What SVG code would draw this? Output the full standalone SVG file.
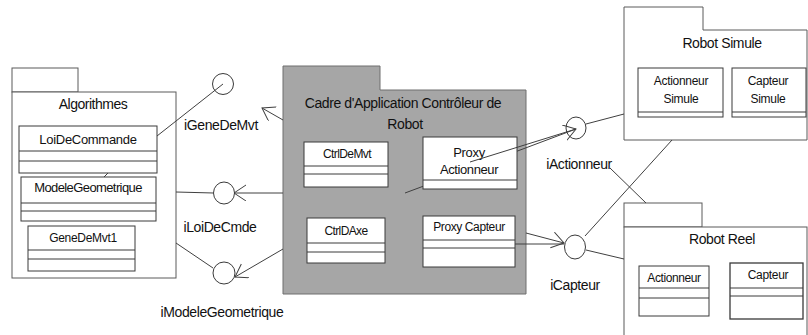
<svg xmlns="http://www.w3.org/2000/svg" width="808" height="335" viewBox="0 0 808 335">
<style>
.pk{fill:#fff;stroke:#5a5a5a;stroke-width:1}
.pkg{fill:#a6a6a6;stroke:#6e6e6e;stroke-width:1}
.cl{fill:#fff;stroke:#3a3a3a;stroke-width:1}
.dv{stroke:#3a3a3a;stroke-width:1;fill:none}
.if{fill:#fff;stroke:#3a3a3a;stroke-width:1}
.cn{stroke:#404040;stroke-width:1;fill:none}
text{font-family:"Liberation Sans",Arial,sans-serif;fill:#111;text-anchor:middle}
.t14{font-size:14px}
.t13{font-size:13px}
.t12{font-size:12px}
.lb{font-size:14px;letter-spacing:-0.4px}
</style>
<defs>
<marker id="oa" markerUnits="userSpaceOnUse" markerWidth="14" markerHeight="18" refX="12" refY="8" orient="auto">
<path d="M0,0 L12,8 L0,16" fill="none" stroke="#404040" stroke-width="1"/>
</marker>
</defs>

<g id="algorithmes">
<rect class="pk" x="12" y="68" width="66" height="24"/>
<rect class="pk" x="12" y="92" width="164" height="186"/>
<text class="t14" x="93" y="109" letter-spacing="-0.5">Algorithmes</text>
<g id="loiDeCommande">
<rect class="cl" x="19" y="126" width="138" height="47"/>
<line class="dv" x1="19" y1="151" x2="157" y2="151"/>
<line class="dv" x1="19" y1="161" x2="157" y2="161"/>
<text class="t13" x="88" y="144" letter-spacing="-0.3">LoiDeCommande</text>
</g>
<g id="modeleGeometrique">
<rect class="cl" x="21" y="177" width="135" height="44"/>
<line class="dv" x1="21" y1="203" x2="156" y2="203"/>
<line class="dv" x1="21" y1="211" x2="156" y2="211"/>
<text class="t13" x="88" y="192" letter-spacing="-0.6">ModeleGeometrique</text>
</g>
<g id="geneDeMvt1">
<rect class="cl" x="28" y="226" width="107" height="45"/>
<line class="dv" x1="28" y1="250" x2="135" y2="250"/>
<line class="dv" x1="28" y1="259" x2="135" y2="259"/>
<text class="t12" x="83" y="242" letter-spacing="-0.3">GeneDeMvt1</text>
</g>
</g>

<g id="iGeneDeMvt">
<ellipse class="if" cx="223" cy="84" rx="10.5" ry="10.5"/>
<text class="lb" x="221" y="130">iGeneDeMvt</text>
</g>
<g id="iLoiDeCmde">
<ellipse class="if" cx="224" cy="193" rx="10.5" ry="11"/>
<text class="lb" x="220" y="232">iLoiDeCmde</text>
</g>
<g id="iModeleGeometrique">
<ellipse class="if" cx="224" cy="273" rx="11" ry="11"/>
<text class="lb" x="222" y="317">iModeleGeometrique</text>
</g>

<g id="cadre">
<path class="pkg" d="M283,66 H380 V90 H526 V294 H283 Z"/>
<text class="t14" x="403" y="108" letter-spacing="-0.4">Cadre d'Application Contrôleur de</text>
<text class="t14" x="405" y="129" letter-spacing="-0.4">Robot</text>
<g id="ctrlDeMvt">
<rect class="cl" x="304" y="142" width="84" height="45"/>
<line class="dv" x1="304" y1="166" x2="388" y2="166"/>
<line class="dv" x1="304" y1="174" x2="388" y2="174"/>
<text class="t12" x="347" y="158" letter-spacing="-0.6">CtrlDeMvt</text>
</g>
<g id="proxyActionneur">
<rect class="cl" x="423" y="137" width="94" height="52"/>
<line class="dv" x1="423" y1="180" x2="517" y2="180"/>
<text class="t13" x="469" y="157" letter-spacing="-0.3">Proxy</text>
<text class="t13" x="469" y="174" letter-spacing="-0.4">Actionneur</text>
</g>
<g id="ctrlDAxe">
<rect class="cl" x="307" y="218" width="78" height="45"/>
<line class="dv" x1="307" y1="243" x2="385" y2="243"/>
<line class="dv" x1="307" y1="252" x2="385" y2="252"/>
<text class="t12" x="346" y="235" letter-spacing="-0.6">CtrlDAxe</text>
</g>
<g id="proxyCapteur">
<rect class="cl" x="423" y="216" width="92" height="51"/>
<line class="dv" x1="423" y1="240" x2="515" y2="240"/>
<line class="dv" x1="423" y1="248" x2="515" y2="248"/>
<text class="t12" x="469" y="231" letter-spacing="-0.4">Proxy Capteur</text>
</g>
</g>

<g id="iActionneur">
<ellipse class="if" cx="576" cy="128" rx="10" ry="11"/>
<text class="lb" x="579" y="169">iActionneur</text>
</g>
<g id="iCapteur">
<ellipse class="if" cx="575" cy="247" rx="10.5" ry="12"/>
<text class="lb" x="575" y="290">iCapteur</text>
</g>

<g id="robotSimule">
<path class="pk" d="M624,7 H703 V30 H807 V140 H624 Z"/>
<text class="t14" x="722" y="48" letter-spacing="-0.4">Robot Simule</text>
<g id="actionneurSimule">
<rect class="cl" x="638" y="68" width="85" height="49"/>
<line class="dv" x1="638" y1="112" x2="723" y2="112"/>
<text class="t12" x="681" y="85" letter-spacing="-0.3">Actionneur</text>
<text class="t12" x="681" y="103" letter-spacing="-0.3">Simule</text>
</g>
<g id="capteurSimule">
<rect class="cl" x="732" y="68" width="74" height="49"/>
<line class="dv" x1="732" y1="112" x2="806" y2="112"/>
<text class="t12" x="768" y="85" letter-spacing="-0.3">Capteur</text>
<text class="t12" x="768" y="103" letter-spacing="-0.3">Simule</text>
</g>
</g>

<g id="robotReel">
<rect class="pk" x="624" y="203" width="78" height="24"/>
<rect class="pk" x="624" y="227" width="183" height="112"/>
<text class="t14" x="722" y="244" letter-spacing="-0.4">Robot Reel</text>
<g id="actionneur">
<rect class="cl" x="639" y="266" width="70" height="50"/>
<line class="dv" x1="639" y1="288" x2="709" y2="288"/>
<line class="dv" x1="639" y1="298" x2="709" y2="298"/>
<text class="t12" x="674" y="282" letter-spacing="-0.4">Actionneur</text>
</g>
<g id="capteur">
<rect class="cl" x="730" y="263" width="73" height="56" style="stroke-width:1.3"/>
<line class="dv" x1="730" y1="288" x2="803" y2="288"/>
<line class="dv" x1="730" y1="296" x2="803" y2="296"/>
<text class="t12" x="768" y="279" letter-spacing="-0.3">Capteur</text>
</g>
</g>

<g id="connectors">
<line class="cn" x1="157" y1="136" x2="223" y2="84"/>
<line class="cn" x1="104" y1="177" x2="108" y2="173"/>
<line class="cn" x1="176" y1="192" x2="213.5" y2="193"/>
<line class="cn" x1="176" y1="243" x2="213" y2="268"/>
<line class="cn" x1="283" y1="120" x2="262" y2="108" marker-end="url(#oa)"/>
<line class="cn" x1="283" y1="193" x2="234" y2="193" marker-end="url(#oa)"/>
<line class="cn" x1="283" y1="249" x2="235" y2="277" marker-end="url(#oa)"/>
<line class="cn" x1="405" y1="193" x2="423" y2="186.3"/>
<line class="cn" x1="517" y1="151.2" x2="576" y2="129"/>
<line class="cn" x1="470" y1="162" x2="576" y2="129" marker-end="url(#oa)"/>
<line class="cn" x1="526" y1="233" x2="564" y2="243" marker-end="url(#oa)"/>
<line class="cn" x1="515" y1="244" x2="564" y2="244"/>
<line class="cn" x1="586" y1="124" x2="624" y2="114"/>
<line class="cn" x1="585" y1="236" x2="672" y2="140"/>
<line class="cn" x1="610" y1="168" x2="646" y2="203"/>
<line class="cn" x1="586" y1="250" x2="624" y2="259"/>
</g>
</svg>
